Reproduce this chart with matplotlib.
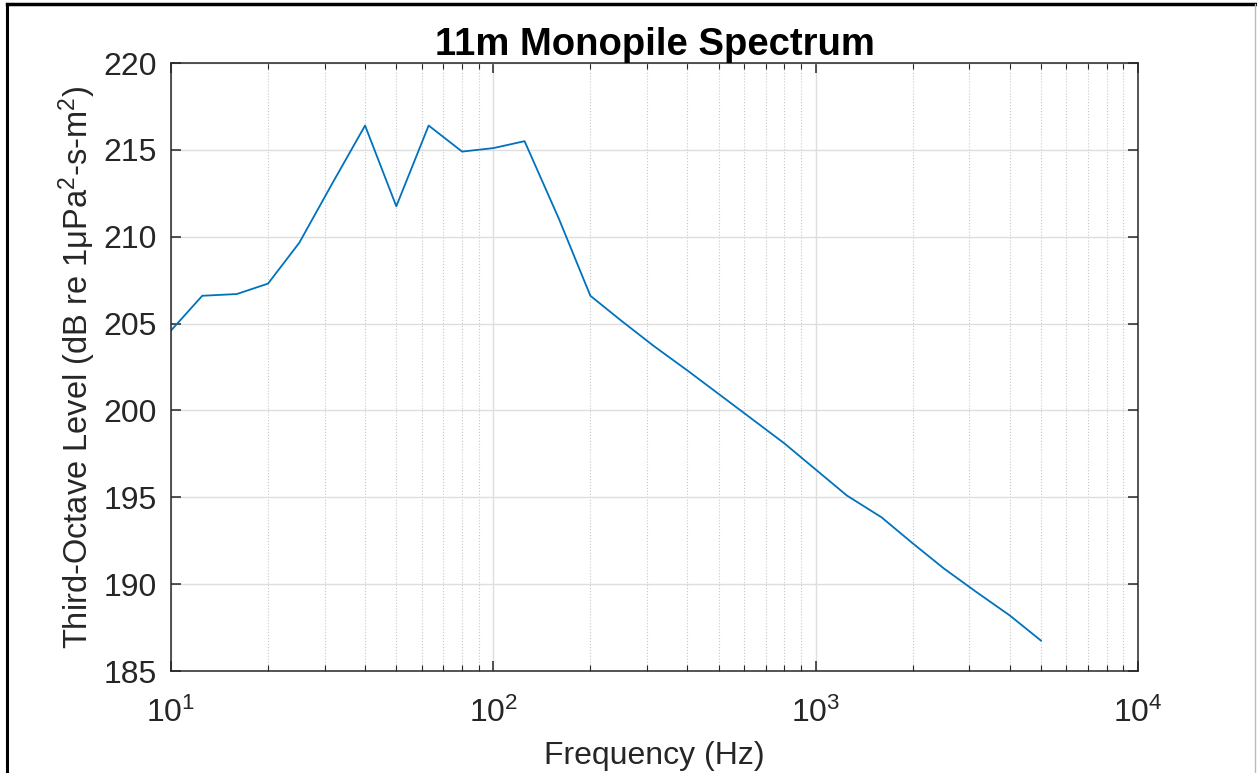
import matplotlib
matplotlib.use("Agg")
import matplotlib.pyplot as plt
from matplotlib.lines import Line2D
from matplotlib.ticker import LogLocator, NullFormatter, MultipleLocator

# third-octave band centre frequencies (Hz)
freq = [10, 12.5, 16, 20, 25, 31.5, 40, 50, 63, 80, 100, 125, 160, 200,
        250, 315, 400, 500, 630, 800, 1000, 1250, 1600, 2000, 2500, 3150,
        4000, 5000]
# third-octave level (dB re 1uPa^2-s-m^2)
level = [204.6, 206.6, 206.7, 207.3, 209.65, 213.0, 216.4, 211.75, 216.4,
         214.9, 215.1, 215.5, 211.0, 206.6, 205.15, 203.7, 202.3, 200.95,
         199.55, 198.1, 196.6, 195.1, 193.85, 192.35, 190.9, 189.55,
         188.2, 186.75]

plt.rcParams['font.family'] = ['Liberation Sans', 'DejaVu Sans']
plt.rcParams['mathtext.fontset'] = 'custom'
plt.rcParams['mathtext.rm'] = 'Liberation Sans'
plt.rcParams['mathtext.it'] = 'Liberation Sans'

axcol = '#262626'

fig = plt.figure(figsize=(12.57, 7.73), dpi=100)
ax = fig.add_axes([171 / 1257, 1 - 671 / 773, (1138 - 171) / 1257, (671 - 63) / 773])

ax.plot(freq, level, color='#0072BD', lw=1.3)

ax.set_xscale('log')
ax.set_xlim(10, 1e4)
ax.set_ylim(185, 220)
ax.yaxis.set_major_locator(MultipleLocator(5))
ax.xaxis.set_major_locator(LogLocator(base=10, numticks=10))
ax.xaxis.set_minor_locator(LogLocator(base=10, subs=range(2, 10), numticks=10))
ax.xaxis.set_minor_formatter(NullFormatter())

ax.grid(True, which='major', color='#dedede', lw=1.0, ls='-')
ax.grid(True, which='minor', axis='x', color='#c8c8c8', lw=0.8, ls=':')
ax.set_axisbelow(True)

ax.tick_params(which='both', direction='in', top=True, right=True,
               colors=axcol, labelcolor='#262626', labelsize=23)
ax.tick_params(which='major', length=7, width=1.1)
ax.tick_params(which='minor', length=4, width=0.8)
ax.tick_params(axis='y', which='major', pad=10)
ax.tick_params(axis='x', which='major', pad=19)
for s in ax.spines.values():
    s.set_color(axcol)
    s.set_linewidth(1.1)

ax.set_title('11m Monopile Spectrum', fontsize=27.5, fontweight='bold', pad=6)
ax.set_xlabel('Frequency (Hz)', fontsize=23, color='#262626', labelpad=9)
ax.set_ylabel(r'Third-Octave Level (dB re 1μPa$^2$-s-m$^2$)', fontsize=23.5,
              color='#262626', labelpad=4)

# page frame
fig.add_artist(Line2D([7 / 1257, 7 / 1257], [0, 1 - 4 / 773], color='black', lw=2.2))
fig.add_artist(Line2D([7 / 1257, 1], [1 - 4 / 773, 1 - 4 / 773], color='black', lw=2.5))
fig.add_artist(Line2D([1255 / 1257, 1255 / 1257], [0, 1 - 4 / 773], color='#bbbbbb', lw=1))

fig.savefig('out.png', dpi=100)
